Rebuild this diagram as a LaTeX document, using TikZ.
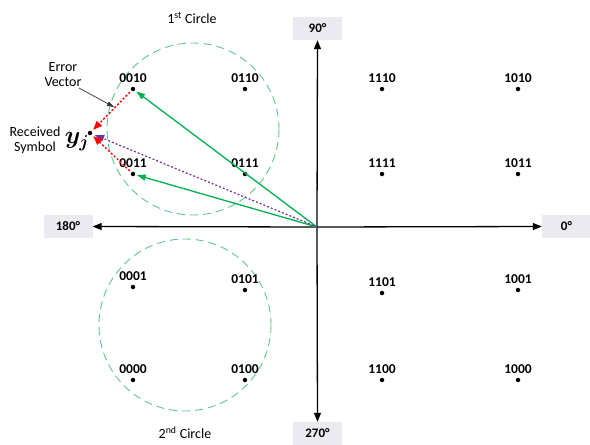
\documentclass[tikz,border=0pt]{standalone}
\usepackage{fontspec}
\setmainfont{Carlito}
\usetikzlibrary{arrows.meta}
\definecolor{boxgray}{RGB}{236,234,241}
\definecolor{gline}{RGB}{0,176,80}
\definecolor{cdash}{RGB}{90,200,140}
\definecolor{purp}{RGB}{112,48,160}
\tikzset{
  pt/.style={circle,fill=black,inner sep=0pt,minimum size=4.5pt},
  lbl/.style={font=\bfseries\fontsize{13.5}{15}\selectfont,inner sep=1pt},
  boxlbl/.style={fill=boxgray,minimum width=49pt,minimum height=23pt,inner sep=0pt,font=\bfseries\fontsize{13}{15}\selectfont},
  txt/.style={font=\fontsize{14}{16}\selectfont,align=center,inner sep=0pt},
  axis/.style={line width=1.3pt,-{Triangle[length=9pt,width=7pt]}},
  garrow/.style={gline,line width=1.3pt,-{Triangle[length=9pt,width=6pt]},shorten >=1.5pt},
  rarrow/.style={red,line width=1.4pt,dash pattern=on 2pt off 2pt,-{Triangle[length=9pt,width=7pt]},shorten >=2pt,shorten <=2pt},
  parrow/.style={purp,line width=1.2pt,dash pattern=on 2pt off 2pt,-{Triangle[length=9pt,width=7pt]},shorten >=3pt},
  dcirc/.style={cdash,line width=0.9pt,dash pattern=on 8pt off 5pt},
  symlbl/.style={inner sep=0pt,font=\boldmath\fontsize{24}{26}\selectfont},
  every label/.style={label distance=3pt},
}
\begin{document}
\begin{tikzpicture}[x=1pt,y=-1pt]
\useasboundingbox (0,0) rectangle (590,445);
% axis labels
\node[boxlbl] (n90) at (317.5,28.5) {90°};
\node[boxlbl] (n0) at (566.5,226.5) {0°};
\node[boxlbl] (n180) at (68,226.5) {180°};
\node[boxlbl] (n270) at (317.5,433.5) {270°};
\coordinate (O) at (317,227);
\draw[axis] (O) -- (n90.south);
\draw[axis] (O) -- (n0.west);
\draw[axis] (O) -- (n180.east);
\draw[axis] (O) -- (n270.north);
% circles
\draw[dcirc] (193,129) circle[radius=86];
\draw[dcirc] (185,325) circle[radius=86];
\node[txt] (c1) at (192,18) {1\textsuperscript{st} Circle};
\node[txt] (c2) at (185,433) {2\textsuperscript{nd} Circle};
% constellation points
\node[pt,label={[lbl,label distance=3pt]above:0010}] (p0010) at (133,89) {};
\node[pt,label={[lbl,label distance=3pt]above:0110}] (p0110) at (245,89) {};
\node[pt,label={[lbl,label distance=3pt]above:0011}] (p0011) at (133,174) {};
\node[pt,label={[lbl,label distance=3pt]above:0111}] (p0111) at (245,174) {};
\node[pt,label={[lbl,label distance=3pt]above:1110}] (p1110) at (382,89) {};
\node[pt,label={[lbl,label distance=3pt]above:1010}] (p1010) at (518,89) {};
\node[pt,label={[lbl,label distance=3pt]above:1111}] (p1111) at (382,174) {};
\node[pt,label={[lbl,label distance=3pt]above:1011}] (p1011) at (518,174) {};
\node[pt,label={[lbl,label distance=3pt]above:0001}] (p0001) at (133,287) {};
\node[pt,label={[lbl,label distance=3pt]above:0101}] (p0101) at (245,290) {};
\node[pt,label={[lbl,label distance=3pt]above:0000}] (p0000) at (133,380) {};
\node[pt,label={[lbl,label distance=3pt]above:0100}] (p0100) at (245,380) {};
\node[pt,label={[lbl,label distance=3pt]above:1101}] (p1101) at (382,293) {};
\node[pt,label={[lbl,label distance=3pt]above:1001}] (p1001) at (518,290) {};
\node[pt,label={[lbl,label distance=3pt]above:1100}] (p1100) at (382,380) {};
\node[pt,label={[lbl,label distance=3pt]above:1000}] (p1000) at (518,380) {};
% received symbol
\node[pt] (ry) at (90,133) {};
\node[symlbl] (yj) at (77,142) {$y_j$};
\node[txt] (rs) at (35,140) {Received\\[-1pt]Symbol};
\node[txt] (ev) at (63,75) {Error\\[-1pt]Vector};
\coordinate (evs) at (79,88);
\coordinate (evt) at (114,107);
\draw[black!80,line width=0.7pt,-{Triangle[length=7pt,width=4.5pt]}] (evs) -- (evt);
% vectors
\draw[garrow] (O) -- (p0010);
\draw[garrow] (O) -- (p0011);
\draw[parrow] (O) -- (ry);
\draw[rarrow] (p0010) -- (ry);
\draw[rarrow] (p0011) -- (ry);
\end{tikzpicture}
\end{document}
